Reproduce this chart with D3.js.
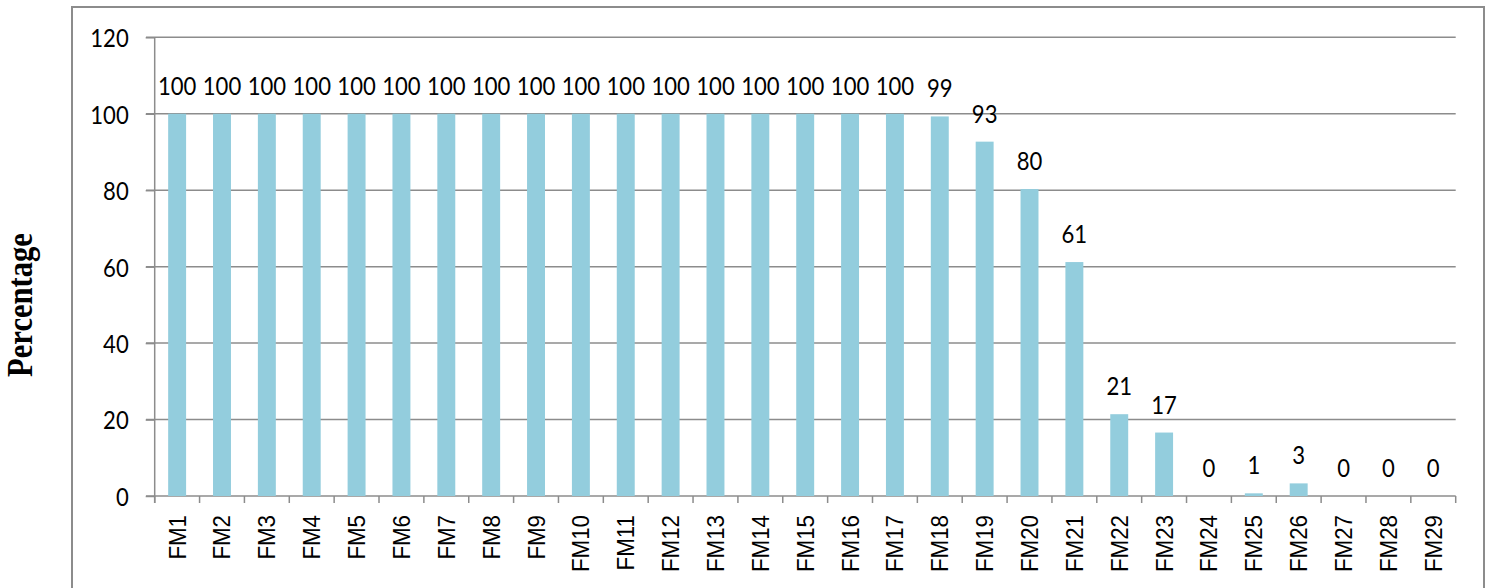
<!DOCTYPE html>
<html>
<head>
<meta charset="utf-8">
<script src="https://cdn.jsdelivr.net/npm/d3@7"></script>
<style>
  body { margin: 0; background: #fff; }
</style>
</head>
<body>
<div id="chart"></div>
<script>
// categories and values
var categories = ["FM1","FM2","FM3","FM4","FM5","FM6","FM7","FM8","FM9","FM10",
  "FM11","FM12","FM13","FM14","FM15","FM16","FM17","FM18","FM19","FM20",
  "FM21","FM22","FM23","FM24","FM25","FM26","FM27","FM28","FM29"];
var values = [100,100,100,100,100,100,100,100,100,100,
  100,100,100,100,100,100,100,99.3,92.7,80.3,
  61.2,21.4,16.6,0,0.7,3.3,0,0,0];
var yTicks = [0,20,40,60,80,100,120];
var yTitle = "Percentage";

var width = 1492, height = 588;
var barColor = "#93cddd";
var gridColor = "#8c8c8c";
var labelFont = "Lato, 'Open Sans', sans-serif";

var svg = d3.select("#chart").append("svg")
  .attr("width", width)
  .attr("height", height)
  .style("background", "#fff");

// outer frame of the chart (bottom edge runs off the page)
svg.append("rect")
  .attr("x", 72).attr("y", 7)
  .attr("width", 1412).attr("height", 600)
  .attr("fill", "none")
  .attr("stroke", gridColor)
  .attr("stroke-width", 2);

var x = d3.scaleBand()
  .domain(categories)
  .range([154.7, 1455.7])
  .paddingInner(0.6)
  .paddingOuter(0.3);

var y = d3.scaleLinear()
  .domain([0, 120])
  .range([496, 37.3]);

// horizontal gridlines
svg.append("g").selectAll("line")
  .data(yTicks)
  .enter().append("line")
  .attr("x1", 146).attr("x2", 1455.7)
  .attr("y1", function(d){ return y(d); })
  .attr("y2", function(d){ return y(d); })
  .attr("stroke", gridColor)
  .attr("stroke-width", 1.5);

// y axis
var yAxis = svg.append("g")
  .attr("transform", "translate(154.7,0)")
  .call(d3.axisLeft(y).tickValues(yTicks).tickSize(9).tickSizeOuter(0));
yAxis.select(".domain").remove();
yAxis.append("line")
  .attr("x1", 0).attr("x2", 0)
  .attr("y1", y(120)).attr("y2", 503)
  .attr("stroke", gridColor).attr("stroke-width", 1.5);
yAxis.selectAll(".tick line").attr("stroke", gridColor).attr("stroke-width", 1.5);
yAxis.selectAll(".tick text")
  .attr("x", null)
  .attr("dy", "0.36em")
  .attr("transform", "translate(-26,0) scale(0.85,1)")
  .style("font-family", labelFont)
  .style("font-size", "26px")
  .attr("fill", "#000");

// x axis ticks at band edges
var step = x.step();
var edges = d3.range(categories.length + 1).map(function(i){ return 154.7 + i * step; });
svg.append("g").selectAll("line")
  .data(edges)
  .enter().append("line")
  .attr("x1", function(d){ return d; })
  .attr("x2", function(d){ return d; })
  .attr("y1", 496).attr("y2", 503)
  .attr("stroke", gridColor)
  .attr("stroke-width", 1.5);

// bars
svg.append("g").selectAll("rect")
  .data(values)
  .enter().append("rect")
  .attr("x", function(d, i){ return x(categories[i]); })
  .attr("y", function(d){ return y(d); })
  .attr("width", x.bandwidth())
  .attr("height", function(d){ return y(0) - y(d); })
  .attr("fill", barColor);

// value labels
svg.append("g").selectAll("text")
  .data(values)
  .enter().append("text")
  .attr("transform", function(d, i){
    return "translate(" + (x(categories[i]) + x.bandwidth() / 2) + "," + (y(d) - 19) + ") scale(0.85,1)";
  })
  .attr("text-anchor", "middle")
  .style("font-family", labelFont)
  .style("font-size", "26px")
  .attr("fill", "#000")
  .text(function(d){ return Math.round(d); });

// category labels, rotated
svg.append("g").selectAll("text")
  .data(categories)
  .enter().append("text")
  .attr("transform", function(d){
    return "translate(" + (x(d) + x.bandwidth() / 2) + ",515) rotate(-90) scale(0.95,1)";
  })
  .attr("text-anchor", "end")
  .attr("dy", "0.36em")
  .style("font-family", "'Liberation Sans', Arial, sans-serif")
  .style("font-size", "23.5px")
  .attr("fill", "#000")
  .text(function(d){ return d; });

// y axis title
svg.append("text")
  .attr("transform", "translate(32,305) rotate(-90) scale(0.85,1)")
  .attr("text-anchor", "middle")
  .style("font-family", "'Liberation Serif', 'Times New Roman', serif")
  .style("font-weight", "bold")
  .style("font-size", "36px")
  .attr("fill", "#000")
  .text(yTitle);
</script>
</body>
</html>
